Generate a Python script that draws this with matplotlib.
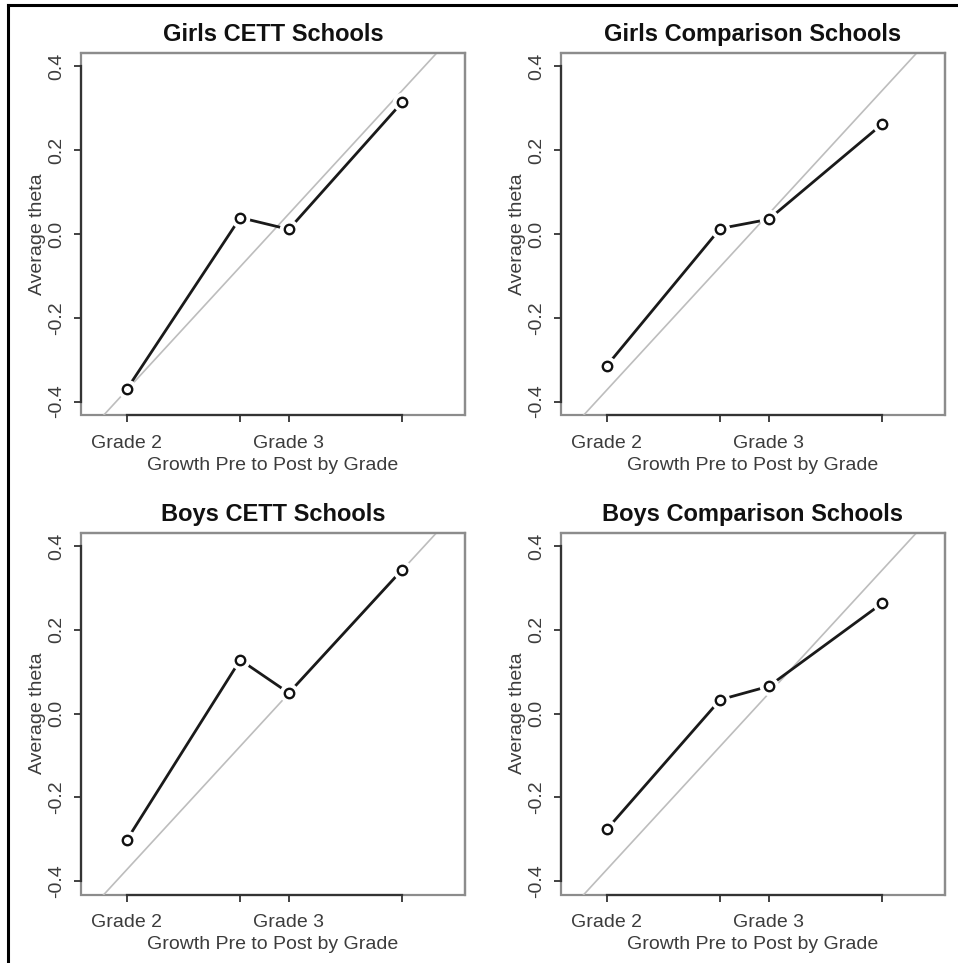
import numpy as np
import matplotlib.pyplot as plt
from matplotlib.lines import Line2D

plt.rcParams['font.family'] = ['Liberation Sans', 'DejaVu Sans']

# Pre/post positions for grade 2 and grade 3
x = [2.0, 2.7, 3.0, 3.7]
tick_labels = ["Grade 2", "", "Grade 3", ""]

titles = ["Girls CETT Schools", "Girls Comparison Schools",
          "Boys CETT Schools", "Boys Comparison Schools"]

girls_cett = [-0.370, 0.039, 0.011, 0.314]
girls_comp = [-0.314, 0.013, 0.035, 0.262]
boys_cett = [-0.301, 0.128, 0.049, 0.343]
boys_comp = [-0.276, 0.033, 0.065, 0.263]
series = [girls_cett, girls_comp, boys_cett, boys_comp]

# gray reference line
ref_a = -1.212
ref_b = 0.42

fig = plt.figure(figsize=(9.58, 9.63), dpi=100)

lefts = [0.0846, 0.5856]
bottoms = [0.5691, 0.0711]
w, h = 0.4008, 0.3759

txt_col = '#3c3c3c'

for i in range(4):
    ax = fig.add_axes([lefts[i % 2], bottoms[i // 2], w, h])
    y = series[i]
    xx = np.array([1.5, 4.5])
    ax.plot(xx, ref_a + ref_b * xx, color='#bdbdbd', lw=1.2, zorder=1)
    ax.plot(x, y, color='#1a1a1a', lw=2.0, zorder=2)
    # white disc under each circle gives the gap of an R type="b" line
    ax.plot(x, y, 'o', ms=14, mfc='white', mec='white', mew=0, zorder=3)
    ax.plot(x, y, 'o', ms=6.8, mfc='none', mec='#111111', mew=1.7, zorder=5)

    ax.set_xlim(1.716, 4.089)
    ax.set_ylim(-0.432, 0.432)

    for s in ['top', 'right', 'left', 'bottom']:
        ax.spines[s].set_color('#8c8c8c')
        ax.spines[s].set_linewidth(1.6)
    ax.spines['left'].set_bounds(-0.4, 0.4)
    ax.spines['bottom'].set_bounds(2.0, 3.7)
    ax.spines['left'].set_color('#333333')
    ax.spines['bottom'].set_color('#333333')
    # gray box behind the axis lines
    ax.add_patch(plt.Rectangle((0, 0), 1, 1, transform=ax.transAxes, fill=False,
                               ec='#8c8c8c', lw=1.6, zorder=0, clip_on=False))

    ax.set_xticks(x)
    ax.set_xticklabels(tick_labels)
    ax.set_yticks([-0.4, -0.2, 0.0, 0.2, 0.4])
    ax.set_yticklabels(["-0.4", "-0.2", "0.0", "0.2", "0.4"], rotation=90, va='center')
    ax.tick_params(direction='out', length=5.2, width=1.3, color='#333333',
                   labelsize=14, labelcolor=txt_col)
    ax.tick_params(axis='x', pad=9)
    ax.tick_params(axis='y', pad=6)

    ax.set_xlabel("Growth Pre to Post by Grade", fontsize=14, color=txt_col, labelpad=3.5)
    ax.set_ylabel("Average theta", fontsize=14, color=txt_col, labelpad=2)
    ax.set_title(titles[i], fontsize=17, fontweight='bold', color='#111111', pad=8.5)

# outer frame on the left and top
fig.add_artist(Line2D([7.5 / 958, 7.5 / 958], [0, 1 - 5.5 / 963], color='black', lw=2.2))
fig.add_artist(Line2D([7.5 / 958, 1], [1 - 5.5 / 963, 1 - 5.5 / 963], color='black', lw=2.2))

fig.savefig('out.png', dpi=100)
